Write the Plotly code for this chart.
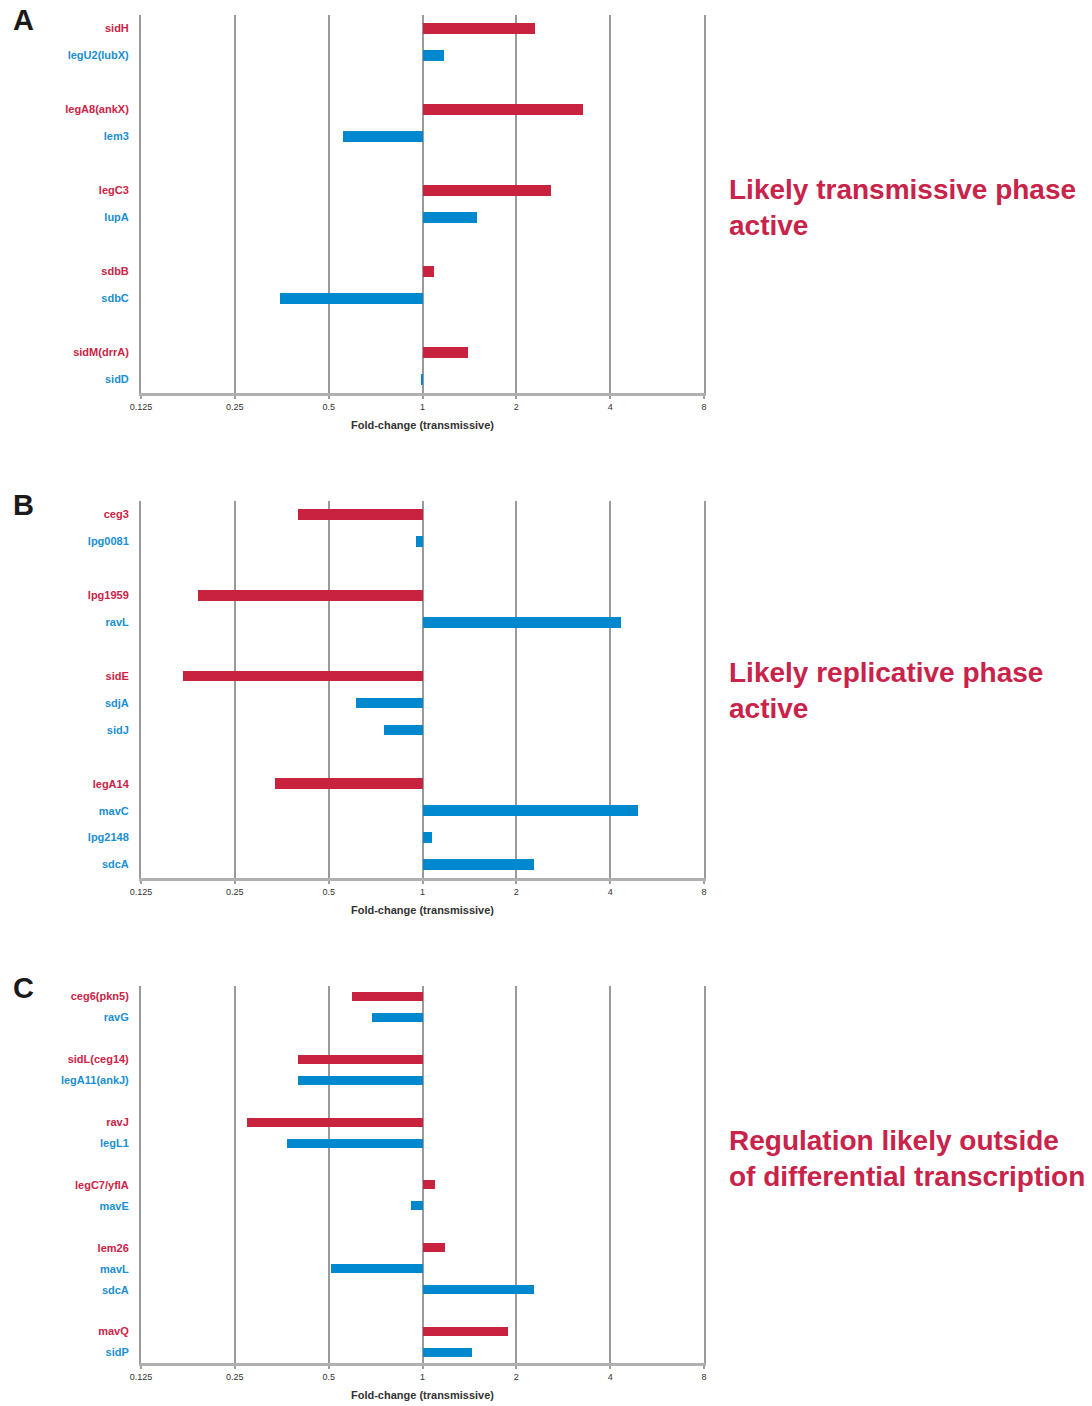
import plotly.graph_objects as go
import math

# ---------------- data ----------------
genes_a = ["sidH", "legU2(lubX)", "legA8(ankX)", "lem3", "legC3", "lupA",
           "sdbB", "sdbC", "sidM(drrA)", "sidD"]
fold_a = [2.30, 1.17, 3.28, 0.556, 2.59, 1.50, 1.09, 0.35, 1.40, 0.99]
kind_a = ["r", "b", "r", "b", "r", "b", "r", "b", "r", "b"]
group_a = [0, 0, 1, 1, 2, 2, 3, 3, 4, 4]

genes_b = ["ceg3", "lpg0081", "lpg1959", "ravL", "sidE", "sdjA", "sidJ",
           "legA14", "mavC", "lpg2148", "sdcA"]
fold_b = [0.40, 0.95, 0.19, 4.33, 0.171, 0.61, 0.75, 0.337, 4.91, 1.07, 2.28]
kind_b = ["r", "b", "r", "b", "r", "b", "b", "r", "b", "b", "b"]
group_b = [0, 0, 1, 1, 2, 2, 2, 3, 3, 3, 3]

genes_c = ["ceg6(pkn5)", "ravG", "sidL(ceg14)", "legA11(ankJ)", "ravJ", "legL1",
           "legC7/yflA", "mavE", "lem26", "mavL", "sdcA", "mavQ", "sidP"]
fold_c = [0.595, 0.689, 0.40, 0.40, 0.274, 0.367, 1.10, 0.919, 1.18, 0.51,
          2.28, 1.88, 1.44]
kind_c = ["r", "b", "r", "b", "r", "b", "r", "b", "r", "b", "b", "r", "b"]
group_c = [0, 0, 1, 1, 2, 2, 3, 3, 4, 4, 4, 5, 5]

x_ticks = [0.125, 0.25, 0.5, 1, 2, 4, 8]
x_ticktext = ["0.125", "0.25", "0.5", "1", "2", "4", "8"]
x_title = "Fold-change (transmissive)"

panel_letters = ["A", "B", "C"]
panel_notes = ["Likely transmissive phase<br>active",
               "Likely replicative phase<br>active",
               "Regulation likely outside<br>of differential transcription"]

# ---------------- style ----------------
W, H = 1092, 1406
BAR_COL = {"r": "#C8223F", "b": "#0088CF"}
LAB_COL = {"r": "#CC2346", "b": "#1A8FD2"}
GRID = "#9a9a9a"

# pixel layout of each panel: (top, bottom) of plotting area
panel_px = [(15, 393), (501, 878), (986, 1363)]
x_px = (141, 704)
bar_w = [0.40, 0.40, 0.43]
note_y = [208, 690, 1158]
letter_y = [20, 505, 988]

fig = go.Figure()
panels = [(genes_a, fold_a, kind_a, group_a),
          (genes_b, fold_b, kind_b, group_b),
          (genes_c, fold_c, kind_c, group_c)]

annotations = []
for p, (genes, fold, kind, group) in enumerate(panels):
    pos = [i + g for i, g in enumerate(group)]
    nslots = pos[-1] + 1
    xa = "x" if p == 0 else f"x{p+1}"
    ya = "y" if p == 0 else f"y{p+1}"
    fig.add_trace(go.Bar(
        orientation="h",
        y=pos,
        x=[v - 1 for v in fold],
        base=[1] * len(fold),
        width=bar_w[p],
        marker=dict(color=[BAR_COL[k] for k in kind], line=dict(width=0)),
        xaxis=xa, yaxis=ya, showlegend=False,
        hovertext=genes,
    ))
    top, bot = panel_px[p]
    xkey = "xaxis" if p == 0 else f"xaxis{p+1}"
    ykey = "yaxis" if p == 0 else f"yaxis{p+1}"
    fig.update_layout(**{
        xkey: dict(
            type="log",
            domain=[x_px[0] / W, x_px[1] / W],
            range=[math.log10(0.125), math.log10(8)],
            anchor=ya, automargin=False,
            tickvals=x_ticks, ticktext=x_ticktext,
            tickfont=dict(family="Liberation Sans, Arial", size=9, color="#333"),
            showgrid=True, gridcolor=GRID, gridwidth=2,
            showline=True, linecolor="#b0b0b0", linewidth=3,
            ticks="outside", ticklen=3, tickcolor="#a0a0a0", tickwidth=2,
            zeroline=False,
            title=dict(text=x_title, standoff=11,
                       font=dict(family="Liberation Sans, Arial", size=11,
                                 color="#333", weight="bold")),
        ),
        ykey: dict(
            domain=[1 - bot / H, 1 - top / H],
            range=[nslots - 0.5, -0.5],
            anchor=xa, automargin=False,
            tickvals=pos,
            ticktext=[f'<span style="color:{LAB_COL[k]}">{g}</span>'
                      for g, k in zip(genes, kind)],
            tickfont=dict(family="Liberation Sans, Arial", size=11, weight="bold"),
            ticklabelstandoff=8,
            showgrid=False, zeroline=False,
            showline=True, mirror=True, linecolor=GRID, linewidth=2,
            ticks="",
        ),
    })
    annotations.append(dict(
        text=panel_letters[p], x=11 / W, y=1 - letter_y[p] / H,
        xref="paper", yref="paper", xanchor="left", yanchor="middle",
        showarrow=False,
        font=dict(family="Liberation Sans, Arial", size=29, color="#1a1a1a",
                  weight="bold")))
    annotations.append(dict(
        text=panel_notes[p], x=727 / W, y=1 - note_y[p] / H,
        xref="paper", yref="paper", xanchor="left", yanchor="middle",
        align="left", showarrow=False,
        font=dict(family="Liberation Sans, Arial", size=28, color="#C8234A",
                  weight="bold")))

fig.update_layout(
    width=W, height=H,
    margin=dict(l=0, r=0, t=0, b=0),
    paper_bgcolor="white", plot_bgcolor="white",
    bargap=0,
    annotations=annotations,
)

fig.write_html(
    "out.html",
    config={"displayModeBar": False},
    post_script="document.body.style.margin='0';document.body.style.overflow='hidden';",
)
